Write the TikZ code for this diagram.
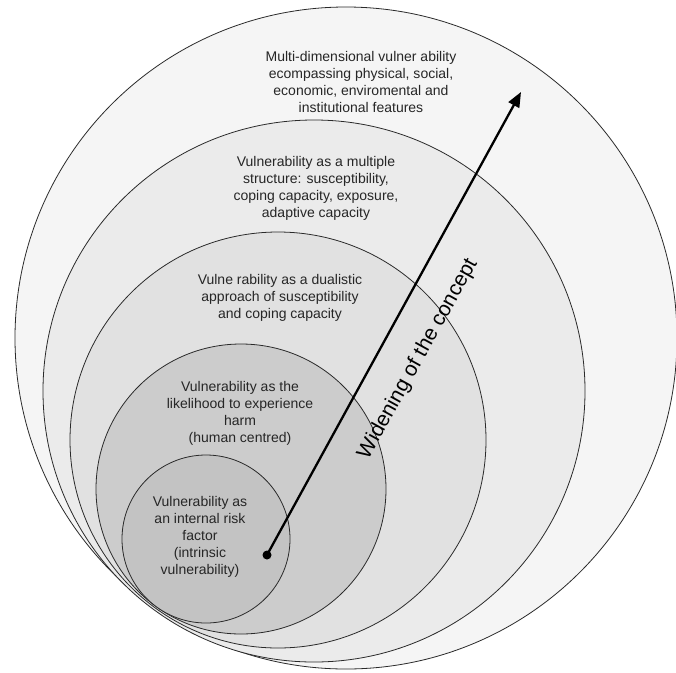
\documentclass[tikz,border=0pt]{standalone}
\usepackage{fontspec}
\setmainfont{Liberation Sans}
\usetikzlibrary{arrows.meta}
\definecolor{fillA}{HTML}{F5F5F5}
\definecolor{fillB}{HTML}{EBEBEB}
\definecolor{fillC}{HTML}{E1E1E1}
\definecolor{fillD}{HTML}{CCCCCC}
\definecolor{fillE}{HTML}{C3C3C3}
\definecolor{ringline}{HTML}{2A2A2A}
\begin{document}
\begin{tikzpicture}[x=1pt,y=-1pt,
  ring/.style={circle, draw=ringline, line width=0.8pt, inner sep=0pt, outer sep=0pt},
  label/.style={align=center, font=\fontsize{14}{17}\selectfont, text=black!85, inner sep=0pt},
  bigarrow/.style={line width=2.3pt, -{Triangle[length=15pt,width=12pt]}}]
\useasboundingbox[fill=white] (0,0) rectangle (676,672);
\node[ring, fill=fillA, minimum size=662pt] (c1) at (346,338) {};
\node[ring, fill=fillB, minimum size=542pt] (c2) at (314,391) {};
\node[ring, fill=fillC, minimum size=416pt] (c3) at (278,440) {};
\node[ring, fill=fillD, minimum size=290pt] (c4) at (241,489) {};
\node[ring, fill=fillE, minimum size=168pt] (c5) at (206,539) {};
\node[label] (t1) at (361,81.5) {Multi-dimensional vulner ability\\ecompassing physical, social,\\economic, enviromental and\\institutional features};
\node[label] (t2) at (316,188) {Vulnerability as a multiple\\structure: susceptibility,\\coping capacity, exposure,\\adaptive capacity};
\node[label] (t3) at (280,298) {Vulne rability as a dualistic\\approach of susceptibility\\and coping capacity};
\node[label] (t4) at (240,413) {Vulnerability as the\\likelihood to experience\\harm\\(human centred)};
\node[label] (t5) at (200,537) {Vulnerability as\\an internal risk\\factor\\(intrinsic\\vulnerability)};
\coordinate (start) at (267,555);
\coordinate (tip) at (521,92);
\fill[black] (start) circle (4.5pt);
\draw[bigarrow] (start) -- (tip);
\node[font=\fontsize{21}{24}\selectfont, rotate=61, inner sep=0pt] (wid) at (418,359) {Widening of the concept};
\end{tikzpicture}
\end{document}
